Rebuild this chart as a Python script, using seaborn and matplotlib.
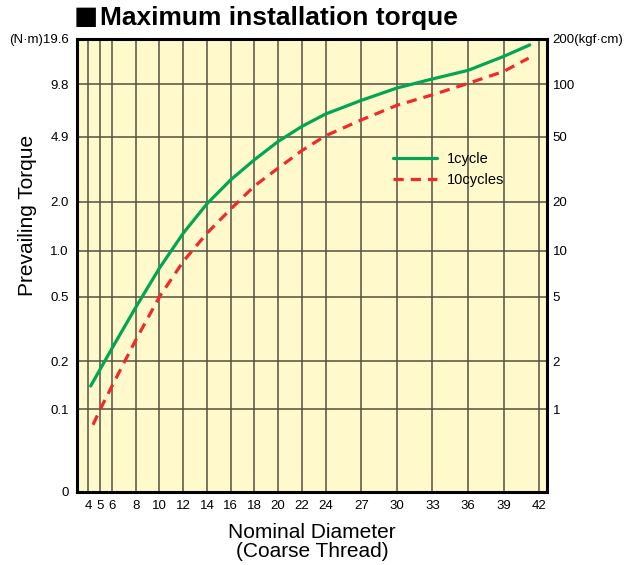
from matplotlib import pyplot as plt
import seaborn as sns
import numpy as np
import pandas as pd

## data
x_ticks = [4, 5, 6, 8, 10, 12, 14, 16, 18, 20, 22, 24, 27, 30, 33, 36, 39, 42]
y_ticks = [0, 0.1, 0.2, 0.5, 1.0, 2.0, 4.9, 9.8, 19.6]
y_labels_left = ["0", "0.1", "0.2", "0.5", "1.0", "2.0", "4.9", "9.8", "(N\u00b7m)19.6"]
y_labels_right = ["", "1", "2", "5", "10", "20", "50", "100", "200(kgf\u00b7cm)"]

d_1cycle = [4.2, 6, 8, 10, 12, 14, 16, 18, 20, 22, 24, 27, 30, 33, 36, 39, 41.2]
t_1cycle = [0.14, 0.24, 0.43, 0.77, 1.28, 1.94, 2.7, 3.56, 4.58, 5.6, 6.6, 7.9, 9.3, 10.6, 12.1, 15.0, 17.9]

d_10cycles = [4.4, 5, 6, 8, 10, 12, 14, 16, 18, 20, 22, 24, 27, 30, 33, 36, 39, 41.1]
t_10cycles = [0.08, 0.1, 0.14, 0.27, 0.5, 0.85, 1.28, 1.8, 2.48, 3.17, 4.04, 4.95, 6.1, 7.4, 8.5, 9.9, 11.9, 14.6]

## vertical spacing of the printed grid (pixels above the 0 line)
grid_pos = [0, 82.4, 130.7, 195.0, 241.0, 290.0, 355.0, 407.4, 452.4]
log_ref = np.log10([0.03] + y_ticks[1:])

def forward(v):
    v = np.asarray(v, dtype=float)
    return np.interp(np.log10(np.clip(v, 1e-4, None)), log_ref, grid_pos)

def inverse(p):
    return 10 ** np.interp(p, grid_pos, log_ref)

bg = "#FFF9CC"
grid_c = "#55513f"
green = "#00A651"
red = "#EE2A2A"

sns.set_style("white")
plt.rcParams["font.family"] = ["Liberation Sans", "DejaVu Sans"]
plt.rcParams.update({"text.color": "black", "axes.labelcolor": "black",
                     "xtick.color": "black", "ytick.color": "black"})

fig = plt.figure(figsize=(6.27, 5.65), dpi=100)
ax = fig.add_axes([77 / 627, 1 - 492 / 565, 470 / 627, 453 / 565])
ax.set_facecolor(bg)

df1 = pd.DataFrame({"d": d_1cycle, "t": t_1cycle})
df10 = pd.DataFrame({"d": d_10cycles, "t": t_10cycles})
sns.lineplot(data=df1, x="d", y="t", ax=ax, color=green, lw=2.3, label="1cycle", sort=False)
sns.lineplot(data=df10, x="d", y="t", ax=ax, color=red, lw=2.3, label="10cycles",
             linestyle=(0, (3.2, 2.2)), sort=False)

ax.set_yscale("function", functions=(forward, inverse))
ax.set_ylim(0, 19.6)
ax.set_xlim(3.05, 42.65)
ax.set_xticks(x_ticks)
ax.set_yticks(y_ticks)
ax.set_yticklabels(y_labels_left)
ax.grid(True, color=grid_c, lw=1.1)
ax.set_axisbelow(True)
ax.tick_params(length=0, labelsize=9.5, pad=6)
for s in ax.spines.values():
    s.set_linewidth(2.2)
    s.set_color("black")

ax2 = ax.twinx()
ax2.set_yscale("function", functions=(forward, inverse))
ax2.set_ylim(0, 19.6)
ax2.set_yticks(y_ticks)
ax2.set_yticklabels(y_labels_right)
ax2.tick_params(length=0, labelsize=9.5, pad=4)
for s in ax2.spines.values():
    s.set_visible(False)

ax.set_xlabel("Nominal Diameter\n(Coarse Thread)", fontsize=15, labelpad=8, linespacing=1.0)
ax.set_ylabel("Prevailing Torque", fontsize=15)
ax.yaxis.set_label_coords(-0.085, 0.61)

leg = ax.legend(loc="upper left", bbox_to_anchor=(0.645, 0.78), frameon=False,
                fontsize=10.5, handlelength=3.0, handletextpad=0.7, labelspacing=0.5)

fig.text(74 / 627, 1 - 18 / 565, "\u25a0", fontsize=29, va="center", ha="left")
fig.text(100 / 627, 1 - 18 / 565, "Maximum installation torque", fontsize=19,
         fontweight="bold", va="center", ha="left")

fig.savefig("out.png", dpi=100)
